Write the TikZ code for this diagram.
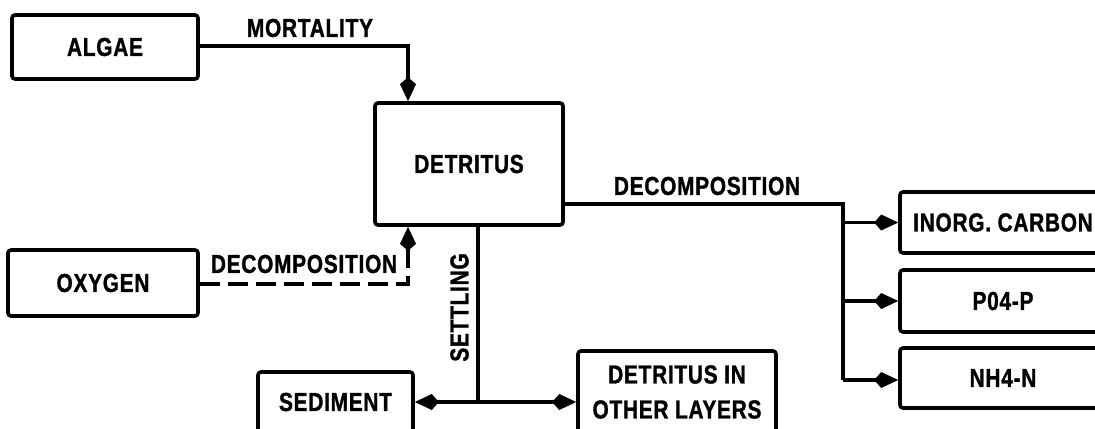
\documentclass[tikz,border=0pt]{standalone}
\usepackage{fontspec}
\setmainfont{Liberation Sans}[FakeStretch=0.8,FakeBold=1.2,LetterSpace=3]
\usetikzlibrary{arrows.meta,calc}
\newcommand{\lbl}{\fontsize{13}{15}\selectfont\bfseries}
\tikzset{
  box/.style={draw, line width=1.8pt, rounded corners=1.5pt, inner sep=0pt, align=center, font=\lbl},
  conn/.style={line width=1.8pt},
  tip/.style={-{Kite[length=12pt,width=8pt,inset=3.5pt]}},
  lab/.style={font=\lbl, inner sep=0pt}
}
\begin{document}
\begin{tikzpicture}[x=0.5pt,y=-0.5pt]
\useasboundingbox (0,0) rectangle (1095,428);
% boxes
\node[box, minimum width=93pt, minimum height=32pt] (algae) at (105,47) {ALGAE};
\node[box, minimum width=94pt, minimum height=61pt] (detritus) at (469,164) {DETRITUS};
\node[box, minimum width=95pt, minimum height=33pt] (oxygen) at (103,283) {OXYGEN};
\node[box, minimum width=103pt, minimum height=30.5pt] (inorg) at (1003,222.5) {INORG. CARBON};
\node[box, minimum width=103pt, minimum height=31pt] (po4) at (1003,301) {P04-P};
\node[box, minimum width=103pt, minimum height=30pt] (nh4) at (1003,378) {NH4-N};
\node[box, minimum width=77.5pt, minimum height=30pt] (sediment) at (335.5,402) {SEDIMENT};
\node[box, minimum width=99pt, minimum height=41pt, execute at begin node={\setlength{\baselineskip}{17.5pt}}] (other) at (677,392) {DETRITUS IN\\OTHER LAYERS};
% coordinates
\coordinate (mbend) at (408,46);
\coordinate (obend) at (408,284);
\coordinate (trunk) at (843,204);
\coordinate (tbot) at (843,380);
\coordinate (sjoin) at (478,402);
% connectors
\draw[conn,tip] (algae.east |- mbend) -- (mbend) -- (mbend |- detritus.north);
\draw[conn,tip,dashed,dash pattern=on 10pt off 4pt] (oxygen.east |- obend) -- (obend) -- (obend |- detritus.south);
\draw[conn] (detritus.east |- trunk) -- (trunk) -- (tbot);
\draw[conn,tip] (trunk |- inorg.west) -- (inorg.west);
\draw[conn,tip] (trunk |- po4.west) -- (po4.west);
\draw[conn,tip] (tbot) -- (tbot -| nh4.west);
\draw[conn] (sjoin |- detritus.south) -- (sjoin);
\draw[conn,tip] (sjoin) -- (sediment.east |- sjoin);
\draw[conn,tip] (sjoin) -- (other.west |- sjoin);
% labels
\node[lab] (lmort) at (310,28) {MORTALITY};
\node[lab] (ldec1) at (304,264) {DECOMPOSITION};
\node[lab] (ldec2) at (707,186) {DECOMPOSITION};
\node[lab, rotate=90] (lsettle) at (459.5,307.5) {SETTLING};
\end{tikzpicture}
\end{document}
